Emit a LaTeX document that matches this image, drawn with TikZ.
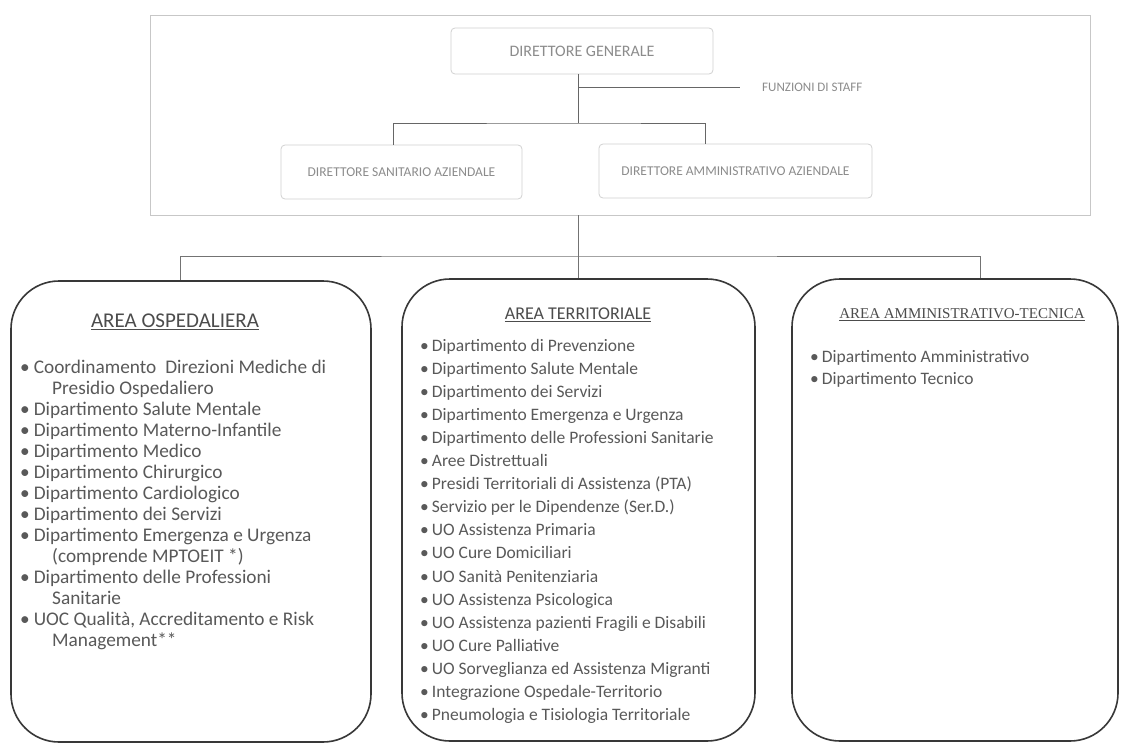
\documentclass[tikz,border=0pt]{standalone}
\usepackage{fontspec}
\setmainfont{Carlito}
\newfontfamily\serifT{Liberation Serif}
\begin{document}
\begin{tikzpicture}[x=1pt,y=-1pt,
  frame/.style={draw=black!22, line width=0.8pt, inner sep=0pt},
  topbox/.style={draw=black!18, line width=0.8pt, rounded corners=4pt, text=black!45, font=\fontsize{13.5}{16}\selectfont, inner sep=0pt},
  toplab/.style={text=black!45, font=\fontsize{13}{15}\selectfont, inner sep=0pt},
  conntop/.style={draw=black!60, line width=0.9pt},
  connmain/.style={draw=black!55, line width=0.9pt},
  areabox/.style={draw=black!78, line width=1.6pt, rounded corners=48pt, inner sep=0pt},
  titleL/.style={text=black!70, font=\fontsize{21}{24}\selectfont, inner sep=0pt},
  titleM/.style={text=black!70, font=\fontsize{18}{22}\selectfont, inner sep=0pt},
  titleR/.style={text=black!70, font=\serifT\fontsize{15}{18}\selectfont, inner sep=0pt},
  itemL/.style={anchor=base west, text=black!65, font=\fontsize{19.3}{22}\selectfont, inner sep=0pt},
  itemM/.style={anchor=base west, text=black!65, font=\fontsize{17.5}{21}\selectfont, inner sep=0pt}]
\useasboundingbox (0,0) rectangle (1121,744);
\fill[white] (0,0) rectangle (1121,744);

% top section
\node[frame, minimum width=940pt, minimum height=200pt] (frame) at (620,115) {};
\node[topbox, minimum width=262pt, minimum height=46pt, font=\fontsize{16}{18}\selectfont] (dg) at (582,51) {DIRETTORE GENERALE};
\node[topbox, minimum width=241pt, minimum height=54pt] (ds) at (401.5,172) {DIRETTORE SANITARIO AZIENDALE};
\node[topbox, minimum width=273pt, minimum height=54pt] (da) at (735.5,171) {DIRETTORE AMMINISTRATIVO AZIENDALE};
\node[toplab, anchor=west] (staff) at (762,87) {FUNZIONI DI STAFF};

\coordinate (jd) at (578,123);
\draw[conntop] (dg.south -| jd) -- (jd);
\draw[conntop] (staff.west -| jd) -- ([xshift=-22pt]staff.west);
\draw[conntop] ([xshift=-8pt]ds.north) |- (jd) -| ([xshift=-30pt]da.north);

% area boxes
\node[areabox, minimum width=360pt, minimum height=461pt] (ao) at (191,511.5) {};
\node[areabox, minimum width=353pt, minimum height=462pt] (at) at (578.5,510) {};
\node[areabox, minimum width=326pt, minimum height=462pt] (aa) at (955,510) {};

\coordinate (jb) at (578,256);
\draw[connmain] (frame.south -| at.north) -- (at.north);
\draw[connmain] ([xshift=-11pt]ao.north) |- (jb) -| ([xshift=25pt]aa.north);

% titles
\node[titleL] (tao) at (175,322) {\underline{AREA OSPEDALIERA}};
\node[titleM] (tat) at (578,315) {\underline{AREA TERRITORIALE}};
\node[titleR] (taa) at (962,315) {\underline{AREA AMMINISTRATIVO-TECNICA}};

% left list
\node[itemL] (l1)  at (20,373) {•\hspace{4pt}Coordinamento\hspace{9pt}Direzioni Mediche di};
\node[itemL] (l1b) at (52,394) {Presidio Ospedaliero};
\node[itemL] (l2)  at (20,415) {•\hspace{4pt}Dipartimento Salute Mentale};
\node[itemL] (l3)  at (20,436) {•\hspace{4pt}Dipartimento Materno-Infantile};
\node[itemL] (l4)  at (20,457) {•\hspace{4pt}Dipartimento Medico};
\node[itemL] (l5)  at (20,478) {•\hspace{4pt}Dipartimento Chirurgico};
\node[itemL] (l6)  at (20,499) {•\hspace{4pt}Dipartimento Cardiologico};
\node[itemL] (l7)  at (20,520) {•\hspace{4pt}Dipartimento dei Servizi};
\node[itemL] (l8)  at (20,541) {•\hspace{4pt}Dipartimento Emergenza e Urgenza};
\node[itemL] (l8b) at (52,562) {(comprende MPTOEIT *)};
\node[itemL] (l9)  at (20,583) {•\hspace{4pt}Dipartimento delle Professioni};
\node[itemL] (l9b) at (52,604) {Sanitarie};
\node[itemL] (l10) at (20,625) {•\hspace{4pt}UOC Qualità, Accreditamento e Risk};
\node[itemL] (l10b) at (52,646) {Management**};

% middle list
\foreach \t [count=\i from 0] in {
  Dipartimento di Prevenzione,
  Dipartimento Salute Mentale,
  Dipartimento dei Servizi,
  Dipartimento Emergenza e Urgenza,
  Dipartimento delle Professioni Sanitarie,
  Aree Distrettuali,
  Presidi Territoriali di Assistenza (PTA),
  Servizio per le Dipendenze (Ser.D.),
  UO Assistenza Primaria,
  UO Cure Domiciliari,
  UO Sanità Penitenziaria,
  UO Assistenza Psicologica,
  UO Assistenza pazienti Fragili e Disabili,
  UO Cure Palliative,
  UO Sorveglianza ed Assistenza Migranti,
  Integrazione Ospedale-Territorio,
  Pneumologia e Tisiologia Territoriale}
  \node[itemM] (m\i) at (420,{351+23.1*\i}) {•\hspace{3pt}\t};

% right list
\node[itemM] (r1) at (810,362) {•\hspace{3pt}Dipartimento Amministrativo};
\node[itemM] (r2) at (810,384) {•\hspace{3pt}Dipartimento Tecnico};
\end{tikzpicture}
\end{document}
